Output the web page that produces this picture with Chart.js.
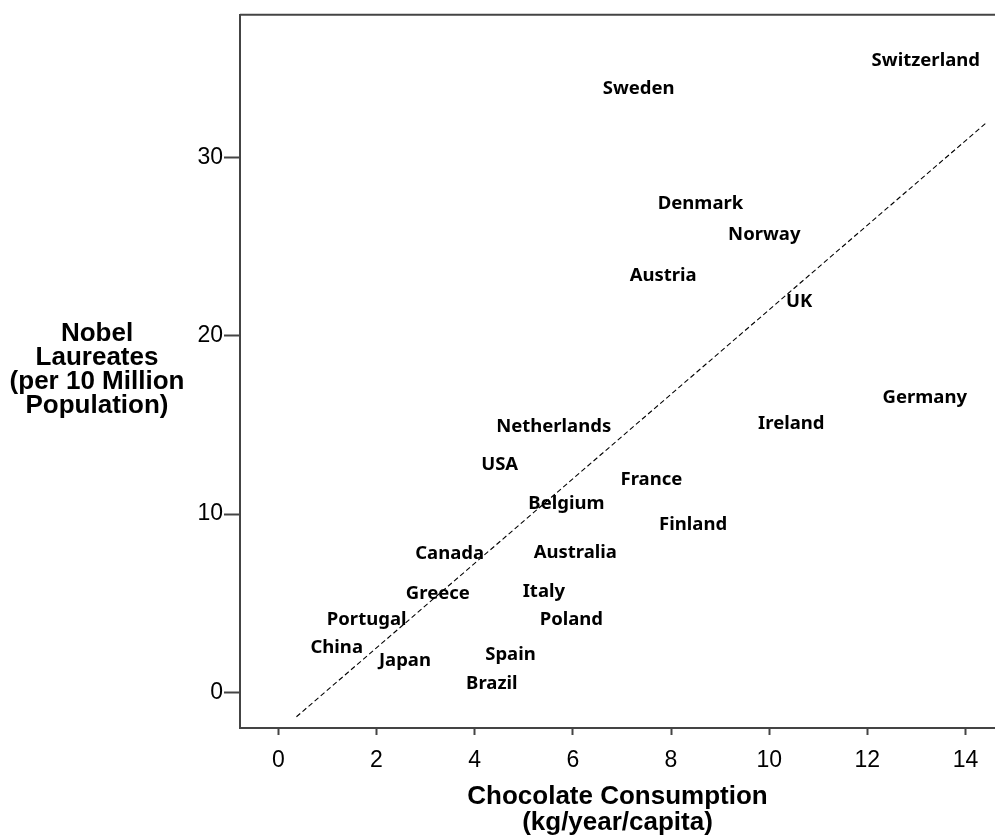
<!DOCTYPE html>
<html>
<head>
<meta charset="utf-8">
<title>Chocolate Consumption vs Nobel Laureates</title>
<script src="https://cdn.jsdelivr.net/npm/chart.js@4.4.1/dist/chart.umd.min.js"></script>
<style>
  html, body { margin: 0; padding: 0; background: #fff; }
  #wrap { width: 995px; height: 838px; }
</style>
</head>
<body>
<div id="wrap"><canvas id="chocoChart" width="995" height="838"></canvas></div>
<script>
// Valores (posición de cada etiqueta)
const countries = ['Switzerland', 'Sweden', 'Denmark', 'Norway', 'Austria', 'UK', 'Germany', 'Ireland',
    'Netherlands', 'USA', 'France', 'Belgium', 'Finland', 'Canada', 'Australia', 'Greece', 'Italy',
    'Portugal', 'Poland', 'China', 'Spain', 'Japan', 'Brazil'];
const chocolate = [13.19, 7.34, 8.60, 9.90, 7.84, 10.61, 13.17, 10.45,
    5.61, 4.51, 7.60, 5.87, 8.45, 3.49, 6.05, 3.25, 5.41,
    1.80, 5.97, 1.19, 4.73, 2.58, 4.35];
const nobel = [35.42, 33.85, 27.38, 25.65, 23.36, 21.91, 16.50, 15.05,
    14.88, 12.76, 11.93, 10.59, 9.42, 7.80, 7.85, 5.51, 5.62,
    4.06, 4.06, 2.49, 2.10, 1.80, 0.50];

// Recta de ajuste (extremos dibujados)
const fitX = [0.37, 14.43];
const fitY = [-1.37, 31.96];

const xTicks = [0, 2, 4, 6, 8, 10, 12, 14];
const yTicks = [0, 10, 20, 30];
const xTitle = ['Chocolate Consumption', '(kg/year/capita)'];
const yTitle = ['Nobel', 'Laureates', '(per 10 Million', 'Population)'];

const AXIS_FONT = "'Liberation Sans', Arial, sans-serif";
const LABEL_FONT = "bold 18.5px 'Noto Sans', sans-serif";
const AXIS_COLOR = '#444';

// etiquetas de país en lugar de puntos
const countryLabels = {
    id: 'countryLabels',
    afterDatasetsDraw(chart) {
        const ctx = chart.ctx;
        const meta = chart.getDatasetMeta(0);
        ctx.save();
        ctx.font = LABEL_FONT;
        ctx.fillStyle = '#000';
        ctx.textAlign = 'center';
        ctx.textBaseline = 'middle';
        meta.data.forEach((pt, i) => {
            ctx.fillText(countries[i], pt.x, pt.y);
        });
        ctx.restore();
    }
};

// línea superior del marco + título horizontal del eje Y
const frameAndTitle = {
    id: 'frameAndTitle',
    afterDraw(chart) {
        const ctx = chart.ctx;
        const a = chart.chartArea;
        ctx.save();
        ctx.strokeStyle = AXIS_COLOR;
        ctx.lineWidth = 2;
        ctx.beginPath();
        ctx.moveTo(a.left, a.top);
        ctx.lineTo(a.right, a.top);
        ctx.stroke();

        ctx.font = "bold 26px " + AXIS_FONT;
        ctx.fillStyle = '#000';
        ctx.textAlign = 'center';
        ctx.textBaseline = 'middle';
        yTitle.forEach((line, i) => {
            ctx.fillText(line, 97, 334 + i * 23.8);
        });
        ctx.restore();
    }
};

new Chart(document.getElementById('chocoChart'), {
    type: 'scatter',
    data: {
        datasets: [
            {
                data: chocolate.map((x, i) => ({ x: x, y: nobel[i] })),
                pointRadius: 0,
                pointHoverRadius: 0
            },
            {
                type: 'line',
                data: fitX.map((x, i) => ({ x: x, y: fitY[i] })),
                borderColor: '#000',
                borderWidth: 1.1,
                borderDash: [5, 3],
                pointRadius: 0,
                fill: false
            }
        ]
    },
    options: {
        responsive: false,
        devicePixelRatio: 1,
        animation: false,
        events: [],
        layout: { padding: { top: 12, right: 0, bottom: 0, left: 0 } },
        plugins: {
            legend: { display: false },
            tooltip: { enabled: false }
        },
        scales: {
            x: {
                type: 'linear',
                min: -0.78,
                max: 14.6,
                afterBuildTicks: (axis) => { axis.ticks = xTicks.map(v => ({ value: v })); },
                afterFit: (axis) => { axis.height = 110; },
                grid: { drawOnChartArea: false, drawTicks: true, tickLength: 7, tickColor: AXIS_COLOR, tickWidth: 2 },
                border: { display: true, color: AXIS_COLOR, width: 2 },
                ticks: { color: '#000', font: { family: AXIS_FONT, size: 23 }, padding: 12, maxRotation: 0, autoSkip: false },
                title: {
                    display: true,
                    text: xTitle,
                    color: '#000',
                    font: { family: AXIS_FONT, size: 26, weight: 'bold', lineHeight: 1 },
                    padding: { top: 0, bottom: 2 }
                }
            },
            y: {
                type: 'linear',
                min: -2,
                max: 38,
                afterBuildTicks: (axis) => { axis.ticks = yTicks.map(v => ({ value: v })); },
                afterFit: (axis) => { axis.width = 240; },
                grid: { drawOnChartArea: false, drawTicks: true, tickLength: 16, tickColor: AXIS_COLOR, tickWidth: 2 },
                border: { display: true, color: AXIS_COLOR, width: 2 },
                ticks: { color: '#000', font: { family: AXIS_FONT, size: 23 }, padding: 1 }
            }
        }
    },
    plugins: [countryLabels, frameAndTitle]
});
</script>
</body>
</html>
